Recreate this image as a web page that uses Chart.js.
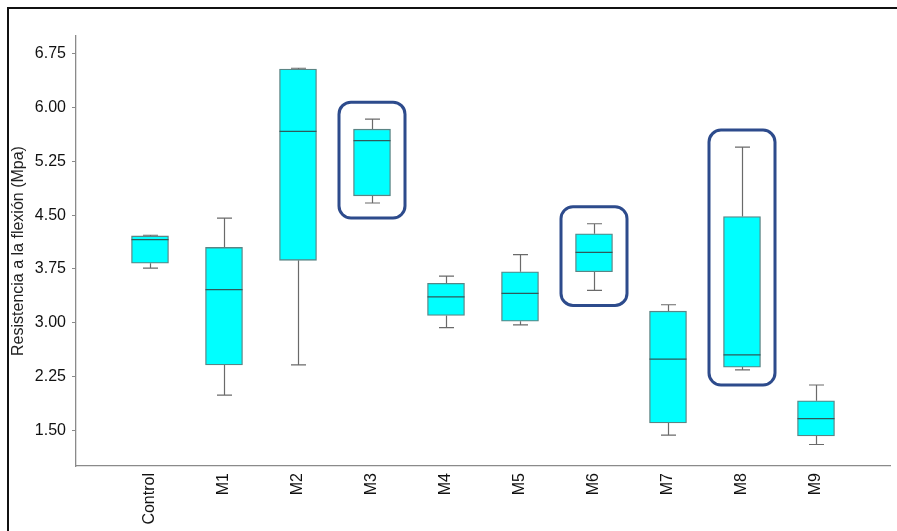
<!DOCTYPE html>
<html>
<head>
<meta charset="utf-8">
<script src="https://cdn.jsdelivr.net/npm/chart.js@4/dist/chart.umd.min.js"></script>
<style>
html,body{margin:0;padding:0;background:#fff;}
#wrap{position:relative;width:897px;height:531px;}
</style>
</head>
<body>
<div id="wrap"><canvas id="c"></canvas></div>
<script>
// ---- data ----
const categories = ['Control','M1','M2','M3','M4','M5','M6','M7','M8','M9'];
const whiskerLow  = [3.76, 1.99, 2.41, 4.67, 2.93, 2.97, 3.45, 1.43, 2.34, 1.30];
const q1Values    = [3.83, 2.41, 3.87, 4.77, 3.10, 3.02, 3.71, 1.60, 2.38, 1.42];
const medianVals  = [4.16, 3.46, 5.67, 5.54, 3.36, 3.41, 3.98, 2.49, 2.55, 1.66];
const q3Values    = [4.21, 4.05, 6.54, 5.70, 3.55, 3.71, 4.24, 3.16, 4.48, 1.91];
const whiskerHigh = [4.22, 4.46, 6.55, 5.84, 3.65, 3.95, 4.38, 3.25, 5.45, 2.13];
const highlighted = ['M3','M6','M8'];
const yTickValues = [1.50, 2.25, 3.00, 3.75, 4.50, 5.25, 6.00, 6.75];
const yTitle = 'Resistencia a la flexión (Mpa)';

// padded label list so categories sit at 1..10 of 0..11
const labels = [''].concat(categories, ['']);
const boxData = [null].concat(categories.map((c,i)=>[q1Values[i], q3Values[i]]), [null]);

const FONT = '"Liberation Sans", Arial, sans-serif';

const boxPlugin = {
  id: 'boxParts',
  beforeDraw(chart){
    const ctx = chart.ctx;
    ctx.save();
    ctx.fillStyle = '#fff';
    ctx.fillRect(0,0,chart.width,chart.height);
    // outer frame
    ctx.strokeStyle = '#111';
    ctx.lineWidth = 2;
    ctx.beginPath();
    ctx.moveTo(8, chart.height);
    ctx.lineTo(8, 8);
    ctx.lineTo(chart.width, 8);
    ctx.stroke();
    ctx.restore();
  },
  beforeDatasetsDraw(chart){
    const ctx = chart.ctx, xs = chart.scales.x, ys = chart.scales.y;
    ctx.save();
    ctx.strokeStyle = '#6a6a6a';
    ctx.lineWidth = 1.2;
    categories.forEach((c,i)=>{
      const x = Math.round(xs.getPixelForValue(i+1)) + 0.5;
      const capHalf = 7.5;
      const yLo = ys.getPixelForValue(whiskerLow[i]);
      const yQ1 = ys.getPixelForValue(q1Values[i]);
      const yQ3 = ys.getPixelForValue(q3Values[i]);
      const yHi = ys.getPixelForValue(whiskerHigh[i]);
      ctx.beginPath();
      ctx.moveTo(x, yQ1); ctx.lineTo(x, yLo);
      ctx.moveTo(x-capHalf, yLo); ctx.lineTo(x+capHalf, yLo);
      ctx.moveTo(x, yQ3); ctx.lineTo(x, yHi);
      ctx.moveTo(x-capHalf, yHi); ctx.lineTo(x+capHalf, yHi);
      ctx.stroke();
    });
    ctx.restore();
  },
  afterDatasetsDraw(chart){
    const ctx = chart.ctx, xs = chart.scales.x, ys = chart.scales.y;
    ctx.save();
    // medians
    ctx.strokeStyle = '#2f5a5a';
    ctx.lineWidth = 1.3;
    categories.forEach((c,i)=>{
      const x = xs.getPixelForValue(i+1);
      const y = ys.getPixelForValue(medianVals[i]);
      ctx.beginPath();
      ctx.moveTo(x-18.5, y); ctx.lineTo(x+18.5, y);
      ctx.stroke();
    });
    // highlight frames
    ctx.strokeStyle = '#2d4b8c';
    ctx.lineWidth = 3;
    highlighted.forEach(name=>{
      const i = categories.indexOf(name);
      const x = xs.getPixelForValue(i+1);
      const top = ys.getPixelForValue(whiskerHigh[i]) - 17;
      const bot = ys.getPixelForValue(whiskerLow[i]) + 15;
      const l = x - 33, w = 66;
      ctx.beginPath();
      ctx.roundRect(l, top, w, bot-top, 12);
      ctx.stroke();
    });
    ctx.restore();
  }
};

new Chart(document.getElementById('c'), {
  type: 'bar',
  data: {
    labels: labels,
    datasets: [{
      data: boxData,
      backgroundColor: '#00ffff',
      borderColor: '#5a8585',
      borderWidth: 1.3,
      borderSkipped: false,
      barThickness: 37
    }]
  },
  options: {
    responsive: true,
    maintainAspectRatio: false,
    animation: false,
    layout: { padding: { top: 36, right: 7, left: 0, bottom: 0 } },
    plugins: { legend: { display: false }, tooltip: { enabled: false } },
    scales: {
      x: {
        type: 'category',
        offset: false,
        grid: { display: true, drawOnChartArea: false, drawTicks: false },
        border: { display: true, color: '#8a8a8a', width: 1.3 },
        ticks: {
          autoSkip: false, minRotation: 90, maxRotation: 90, padding: 7,
          color: '#111', font: { family: FONT, size: 16 }
        },
        afterFit(scale){ scale.height = 65; scale.paddingRight = 0; scale.paddingLeft = 0; }
      },
      y: {
        min: 1, max: 7,
        afterBuildTicks(scale){ scale.ticks = yTickValues.map(v=>({value:v})); },
        grid: { drawOnChartArea: false, drawTicks: true, tickLength: 4, color: '#8a8a8a' },
        border: { display: true, color: '#8a8a8a', width: 1.3 },
        ticks: {
          padding: 6, color: '#111', font: { family: FONT, size: 16 },
          callback: v => Number(v).toFixed(2)
        },
        title: {
          display: true, text: yTitle, color: '#222',
          font: { family: FONT, size: 16 }, padding: { top: 9, bottom: 0 }
        },
        afterFit(scale){ scale.width = 76; scale.paddingTop = 0; scale.paddingBottom = 0; }
      }
    }
  },
  plugins: [boxPlugin]
});
</script>
</body>
</html>
